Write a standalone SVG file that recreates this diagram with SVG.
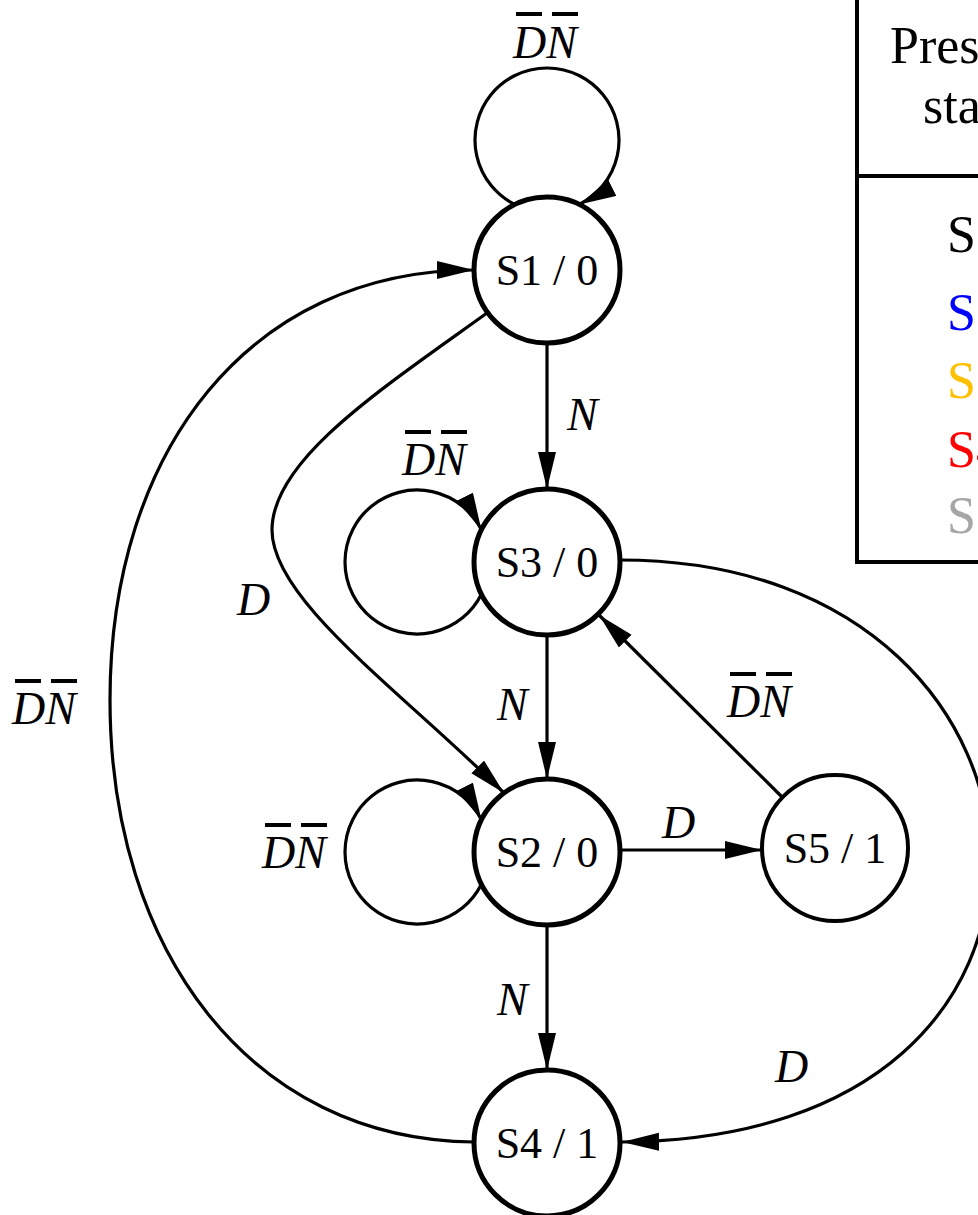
<svg xmlns="http://www.w3.org/2000/svg" width="978" height="1215" viewBox="0 0 978 1215">
<style>
.node{fill:#fff;stroke:#000;stroke-width:5}
.node5{fill:#fff;stroke:#000;stroke-width:4}
.nl{font-family:"Liberation Serif","Times New Roman",serif;font-size:44px;text-anchor:middle;fill:#000}
.el{font-family:"Liberation Serif","Times New Roman",serif;font-size:46px;font-style:italic;fill:#000}
.edge{fill:none;stroke:#000;stroke-width:3.2}
.bar{fill:#000}
.tb{fill:none;stroke:#000;stroke-width:4}
.tt{font-family:"Liberation Serif","Times New Roman",serif;font-size:52px}
</style>
<defs>
<marker id="ah" markerUnits="userSpaceOnUse" markerWidth="40" markerHeight="20" refX="37" refY="9" orient="auto">
<path d="M0,0 L37,9 L0,18 z" fill="#000"/>
</marker>
</defs>
<g id="table">
<path class="tb" d="M857,-10 V562 H990 M857,176 H990"/>
<text class="tt" x="890" y="63">Present</text>
<text class="tt" x="923" y="123">state</text>
<text class="tt" x="947" y="252" fill="#000">S1</text>
<text class="tt" x="947" y="330" fill="#0000FF">S2</text>
<text class="tt" x="947" y="398" fill="#FFC000">S3</text>
<text class="tt" x="947" y="467" fill="#FF0000">S4</text>
<text class="tt" x="947" y="533" fill="#A6A6A6">S5</text>
</g>
<g id="connectors">
<path class="edge" d="M514.8,204.4 A72,72 0 1,1 579.2,204.4" marker-end="url(#ah)"/>
<path class="edge" d="M481.4,594.2 A72,72 0 1,1 481.4,529.8" marker-end="url(#ah)"/>
<path class="edge" d="M481.4,884.2 A72,72 0 1,1 481.4,819.8" marker-end="url(#ah)"/>
<path class="edge" d="M547,343 V489" marker-end="url(#ah)"/>
<path class="edge" d="M547,635 V779" marker-end="url(#ah)"/>
<path class="edge" d="M547,925 V1070" marker-end="url(#ah)"/>
<path class="edge" d="M620,850 H762" marker-end="url(#ah)"/>
<path class="edge" d="M782,797 L599,615" marker-end="url(#ah)"/>
<path class="edge" d="M487,313 C380,390 272,460 272,530 C272,600 400,690 504,793" marker-end="url(#ah)"/>
<path class="edge" d="M620,560 C870,560 990,720 990,860 C990,1000 880,1140 622,1142" marker-end="url(#ah)"/>
<path class="edge" d="M474,1142 C250,1140 110,950 110,700 C110,450 250,270 474,270" marker-end="url(#ah)"/>
<text class="el" x="513" y="58">DN</text>
<rect class="bar" x="516" y="12" width="26" height="4"/>
<rect class="bar" x="552" y="12" width="26" height="4"/>
<text class="el" x="402" y="475">DN</text>
<rect class="bar" x="405" y="430" width="26" height="4"/>
<rect class="bar" x="441" y="430" width="26" height="4"/>
<text class="el" x="262" y="868">DN</text>
<rect class="bar" x="265" y="823" width="26" height="4"/>
<rect class="bar" x="301" y="823" width="26" height="4"/>
<text class="el" x="727" y="717">DN</text>
<rect class="bar" x="730" y="672" width="26" height="4"/>
<rect class="bar" x="766" y="672" width="26" height="4"/>
<text class="el" x="12" y="724">DN</text>
<rect class="bar" x="15" y="679" width="26" height="4"/>
<rect class="bar" x="51" y="679" width="26" height="4"/>
<text class="el" x="567" y="430">N</text>
<text class="el" x="497" y="720">N</text>
<text class="el" x="497" y="1015">N</text>
<text class="el" x="237" y="615">D</text>
<text class="el" x="662" y="838">D</text>
<text class="el" x="775" y="1082">D</text>
</g>
<g id="S1"><circle class="node" cx="547" cy="270" r="73"/><text class="nl" x="547" y="285">S1 / 0</text></g>
<g id="S3"><circle class="node" cx="547" cy="562" r="73"/><text class="nl" x="547" y="577">S3 / 0</text></g>
<g id="S2"><circle class="node" cx="547" cy="852" r="73"/><text class="nl" x="547" y="867">S2 / 0</text></g>
<g id="S4"><circle class="node" cx="547" cy="1143" r="73"/><text class="nl" x="547" y="1158">S4 / 1</text></g>
<g id="S5"><circle class="node5" cx="835" cy="848" r="73"/><text class="nl" x="835" y="863">S5 / 1</text></g>
</svg>
